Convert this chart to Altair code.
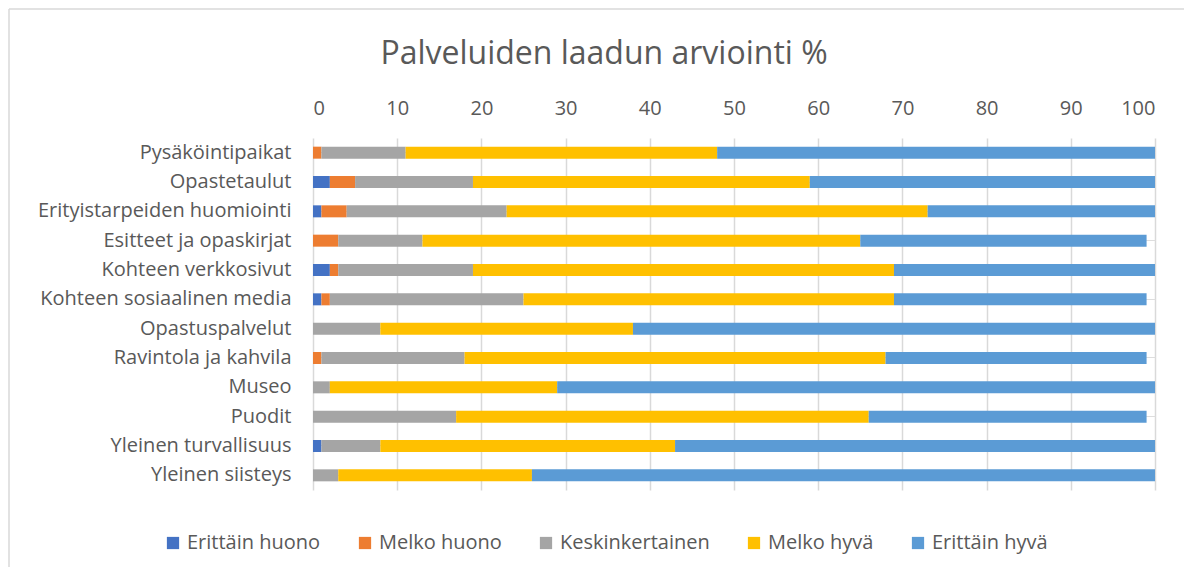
import altair as alt
import pandas as pd

categories = [
    "Pysäköintipaikat",
    "Opastetaulut",
    "Erityistarpeiden huomiointi",
    "Esitteet ja opaskirjat",
    "Kohteen verkkosivut",
    "Kohteen sosiaalinen media",
    "Opastuspalvelut",
    "Ravintola ja kahvila",
    "Museo",
    "Puodit",
    "Yleinen turvallisuus",
    "Yleinen siisteys",
]
series = ["Erittäin huono", "Melko huono", "Keskinkertainen", "Melko hyvä", "Erittäin hyvä"]
colors = ["#4472C4", "#ED7D31", "#A5A5A5", "#FFC000", "#5B9BD5"]

erittain_huono = [0, 2, 1, 0, 2, 1, 0, 0, 0, 0, 1, 0]
melko_huono = [1, 3, 3, 3, 1, 1, 0, 1, 0, 0, 0, 0]
keskinkertainen = [10, 14, 19, 10, 16, 23, 8, 17, 2, 17, 7, 3]
melko_hyva = [37, 40, 50, 52, 50, 44, 30, 50, 27, 49, 35, 23]
erittain_hyva = [52, 41, 27, 34, 31, 30, 62, 31, 71, 33, 57, 74]

values = [erittain_huono, melko_huono, keskinkertainen, melko_hyva, erittain_hyva]
rows = []
for si, (s, vals) in enumerate(zip(series, values)):
    for c, v in zip(categories, vals):
        rows.append({"Kohde": c, "Arvio": s, "Arvo": v, "jarj": si})
df = pd.DataFrame(rows)

FONT = "Open Sans"
TXT = "#595959"

one = alt.Data(values=[{}])
frame_top = alt.Chart(one).mark_rule(color="#d9d9d9", strokeWidth=1.5).encode(
    x=alt.value(-304), x2=alt.value(1000), y=alt.value(-129)
)
frame_left = alt.Chart(one).mark_rule(color="#d9d9d9", strokeWidth=1.5).encode(
    x=alt.value(-304), y=alt.value(-129), y2=alt.value(600)
)

bars = alt.Chart(df).mark_bar(size=12).encode(
    y=alt.Y("Kohde:N", sort=categories, title=None,
            axis=alt.Axis(domain=False, ticks=False, labelPadding=22,
                          labelFontSize=20, labelColor=TXT, labelFont=FONT,
                          labelLimit=400)),
    x=alt.X("sum(Arvo):Q", title=None,
            scale=alt.Scale(domain=[0, 100], nice=False),
            axis=alt.Axis(orient="top", values=list(range(0, 101, 10)),
                          domain=False, ticks=False, labelPadding=20,
                          labelFontSize=20, labelColor=TXT, labelFont=FONT,
                          gridColor="#d9d9d9", gridWidth=1.5)),
    color=alt.Color("Arvio:N", sort=series,
                    scale=alt.Scale(domain=series, range=colors),
                    legend=alt.Legend(title=None, orient="none", direction="horizontal",
                                      legendX=-150, legendY=395,
                                      symbolType="square", symbolSize=150,
                                      symbolStrokeWidth=0,
                                      labelFontSize=20, labelColor=TXT, labelFont=FONT,
                                      columnPadding=34, labelOffset=4)),
    order=alt.Order("jarj:Q"),
)

chart = alt.layer(frame_top, frame_left, bars).properties(
    width=842,
    height=352,
    padding={"left": 305, "top": 130, "right": 29, "bottom": 77},
    autosize=alt.AutoSizeParams(type="none"),
    title=alt.TitleParams("Palveluiden laadun arviointi %", fontSize=32, font=FONT,
                          color=TXT, fontWeight="normal", anchor="middle",
                          frame="group", dx=-130, offset=-63),
).configure_view(stroke=None).configure_axis(grid=True)

chart.save("out.html", embed_options={"renderer": "svg", "actions": False})
